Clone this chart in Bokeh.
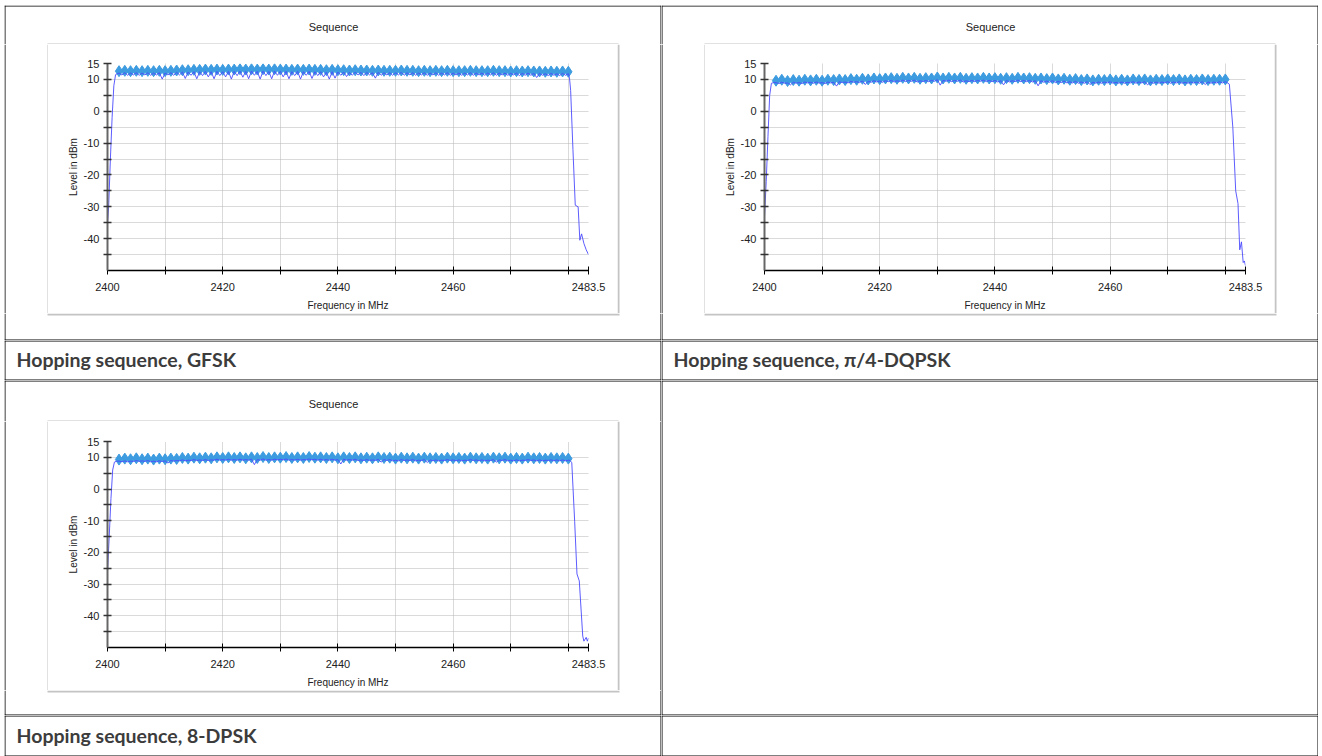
from bokeh.plotting import figure
from bokeh.models import Range1d, FixedTicker
from bokeh.layouts import column, row
from bokeh.core.properties import value
from bokeh.embed import file_html
from bokeh.resources import INLINE

# ---------------- data ----------------
channels = list(range(2402, 2481))            # 79 hopping channels (MHz)
dip_freqs = [c + 0.5 for c in range(2402, 2480)]

x_ticks = [2400, 2410, 2420, 2430, 2440, 2450, 2460, 2470, 2480, 2483.5]
x_labels = {2400: "2400", 2410: "", 2420: "2420", 2430: "", 2440: "2440",
            2450: "", 2460: "2460", 2470: "", 2480: "", 2483.5: "2483.5"}
y_ticks = [-45, -40, -35, -30, -25, -20, -15, -10, -5, 0, 5, 10, 15]
y_labels = {-45: "", -40: "-40", -35: "", -30: "-30", -25: "", -20: "-20", -15: "",
            -10: "-10", -5: "", 0: "0", 5: "", 10: "10", 15: "15"}

captions = ["Hopping sequence, GFSK", "Hopping sequence, \u03c0/4-DQPSK", "Hopping sequence, 8-DPSK"]
chart_title = "Sequence"
x_axis_label = "Frequency in MHz"
y_axis_label = "Level in dBm"

# GFSK
gfsk_markers = [12.6, 12.7, 12.6, 12.7, 12.6, 12.7, 12.6, 12.7, 12.6, 12.7,
                12.8, 12.9, 12.9, 13.0, 13.0, 13.1, 13.0, 13.1, 13.0, 13.1,
                13.1, 13.2, 13.1, 13.2, 13.1, 13.2, 13.1, 13.2, 13.1, 13.1,
                13.0, 13.1, 13.0, 13.1, 13.0, 13.0, 12.9, 13.0, 12.9, 12.9,
                12.8, 12.9, 12.8, 12.8, 12.7, 12.8, 12.7, 12.7, 12.7, 12.8,
                12.7, 12.7, 12.6, 12.7, 12.6, 12.7, 12.6, 12.7, 12.6, 12.6,
                12.6, 12.7, 12.6, 12.6, 12.6, 12.7, 12.6, 12.6, 12.5, 12.6,
                12.5, 12.6, 12.5, 12.5, 12.4, 12.5, 12.4, 12.5, 12.4]
gfsk_peaks = [12.0, 12.1, 12.0, 12.1, 12.0, 12.1, 12.0, 12.1, 12.0, 12.1,
              12.2, 12.3, 12.3, 12.4, 12.4, 12.5, 12.4, 12.5, 12.4, 12.5,
              12.5, 12.6, 12.5, 12.6, 12.5, 12.6, 12.5, 12.6, 12.5, 12.5,
              12.4, 12.5, 12.4, 12.5, 12.4, 12.4, 12.3, 12.4, 12.3, 12.3,
              12.2, 12.3, 12.2, 12.2, 12.1, 12.2, 12.1, 12.1, 12.1, 12.2,
              12.1, 12.1, 12.0, 12.1, 12.0, 12.1, 12.0, 12.1, 12.0, 12.0,
              12.0, 12.1, 12.0, 12.0, 12.0, 12.1, 12.0, 12.0, 11.9, 12.0,
              11.9, 12.0, 11.9, 11.9, 11.8, 11.9, 11.8, 11.9, 11.8]
gfsk_dips = [11.4, 11.3, 11.4, 11.3, 11.4, 11.3, 11.4, 10.1, 11.4, 11.3,
             11.4, 10.3, 11.3, 10.2, 11.2, 10.8, 10.2, 11.2, 10.8, 10.1,
             11.2, 10.7, 10.2, 11.3, 10.1, 11.2, 10.2, 11.3, 10.8, 10.2,
             11.2, 10.1, 11.3, 10.3, 11.2, 10.8, 10.1, 10.4, 11.3, 10.9,
             11.3, 11.4, 11.2, 11.4, 10.4, 11.3, 11.4, 11.3, 11.4, 11.3,
             11.4, 11.3, 11.4, 11.3, 11.4, 11.3, 11.4, 11.3, 11.4, 11.3,
             11.4, 11.3, 11.4, 11.3, 11.4, 11.3, 11.4, 11.3, 11.4, 11.2,
             11.3, 11.3, 10.6, 11.3, 11.2, 11.3, 11.2, 11.3]
gfsk_rise_f = [2400.0, 2400.2, 2400.5, 2400.8, 2401.1, 2401.4, 2401.7]
gfsk_rise_l = [-35, -30, -15, -2, 8, 11.5, 11.8]
gfsk_fall_f = [2480.2, 2480.4, 2480.8, 2481.2, 2481.7, 2482.0, 2482.3, 2482.7, 2483.1, 2483.5]
gfsk_fall_l = [10.5, 6.5, -12, -29.5, -30, -40.5, -38.5, -41.5, -43.5, -45]

# pi/4-DQPSK
dqpsk_markers = [9.6, 9.9, 9.5, 9.8, 9.6, 9.9, 9.7, 9.9, 9.6, 9.9,
                 9.8, 10.0, 9.8, 10.1, 9.9, 10.2, 10.0, 10.3, 10.1, 10.3,
                 10.4, 10.2, 10.5, 10.3, 10.5, 10.2, 10.4, 10.3, 10.6, 10.3,
                 10.5, 10.3, 10.5, 10.2, 10.4, 10.3, 10.5, 10.3, 10.4, 10.2,
                 10.4, 10.2, 10.5, 10.3, 10.4, 10.2, 10.3, 10.1, 10.3, 10.0,
                 10.2, 9.9, 10.1, 9.8, 10.0, 9.7, 9.9, 9.8, 10.0, 9.7,
                 9.9, 9.7, 10.0, 9.8, 10.0, 9.7, 9.9, 9.8, 10.0, 9.8,
                 10.0, 9.7, 9.9, 9.8, 10.0, 9.8, 9.9, 9.9, 10.0]
dqpsk_peaks = [9.0, 9.1, 8.9, 9.1, 9.0, 9.2, 9.1, 9.2, 9.0, 9.2,
               9.1, 9.3, 9.2, 9.4, 9.3, 9.5, 9.4, 9.6, 9.5, 9.6,
               9.7, 9.6, 9.8, 9.7, 9.8, 9.6, 9.7, 9.7, 9.9, 9.7,
               9.8, 9.7, 9.8, 9.6, 9.7, 9.7, 9.8, 9.7, 9.7, 9.6,
               9.7, 9.6, 9.8, 9.7, 9.7, 9.6, 9.6, 9.5, 9.6, 9.4,
               9.5, 9.3, 9.4, 9.2, 9.3, 9.1, 9.2, 9.2, 9.3, 9.1,
               9.2, 9.1, 9.3, 9.2, 9.3, 9.1, 9.2, 9.2, 9.3, 9.2,
               9.3, 9.1, 9.2, 9.2, 9.3, 9.2, 9.2, 9.3, 9.3]
dqpsk_dips = [8.7, 8.8, 8.3, 8.8, 8.7, 8.9, 8.8, 8.8, 8.7, 8.9,
              7.9, 9.0, 8.9, 9.1, 9.0, 8.4, 9.1, 9.2, 9.1, 9.3,
              9.2, 9.3, 9.3, 9.4, 9.2, 9.3, 9.3, 9.4, 8.2, 9.4,
              9.3, 9.4, 9.2, 9.3, 9.3, 9.4, 9.3, 9.3, 9.2, 8.3,
              9.2, 9.3, 9.3, 9.3, 9.2, 8.0, 9.1, 9.1, 9.0, 9.0,
              8.9, 8.9, 8.8, 8.8, 8.4, 8.8, 8.8, 8.9, 8.8, 8.8,
              8.8, 8.9, 8.8, 8.9, 8.3, 8.8, 8.8, 8.9, 8.8, 8.9,
              8.8, 8.8, 8.9, 8.8, 8.4, 8.8, 8.9, 8.9]
dqpsk_rise_f = [2400.0, 2400.3, 2400.6, 2400.9, 2401.2, 2401.6]
dqpsk_rise_l = [-33, -22, -8, 5, 8.8, 9.0]
dqpsk_fall_f = [2480.3, 2480.7, 2481.3, 2481.8, 2482.2, 2482.5, 2482.8, 2483.1, 2483.3, 2483.5]
dqpsk_fall_l = [9.0, 8.5, -5, -25, -29, -43.5, -41, -47.5, -47, -48.5]

# 8-DPSK
dpsk_markers = [9.3, 9.6, 9.4, 9.7, 9.4, 9.6, 9.3, 9.6, 9.4, 9.6,
                9.5, 9.8, 9.6, 9.9, 9.7, 9.9, 9.7, 10.0, 9.8, 10.0,
                9.8, 10.0, 9.7, 10.0, 9.8, 10.1, 9.8, 10.0, 9.9, 10.1,
                9.8, 10.0, 9.8, 10.1, 9.9, 10.0, 9.8, 10.0, 9.7, 10.0,
                9.8, 10.0, 9.7, 9.9, 9.7, 10.0, 9.8, 9.9, 9.6, 9.9,
                9.7, 9.9, 9.6, 9.9, 9.7, 9.8, 9.6, 9.9, 9.7, 9.8,
                9.6, 9.9, 9.7, 9.8, 9.6, 9.9, 9.7, 9.9, 9.6, 9.8,
                9.6, 9.9, 9.7, 9.8, 9.6, 9.8, 9.7, 9.8, 9.6]
dpsk_peaks = [8.8, 8.9, 8.8, 9.0, 8.9, 9.0, 8.8, 8.9, 8.9, 9.0,
              9.0, 9.2, 9.1, 9.3, 9.2, 9.3, 9.2, 9.4, 9.3, 9.4,
              9.3, 9.4, 9.3, 9.4, 9.3, 9.5, 9.3, 9.4, 9.4, 9.5,
              9.3, 9.4, 9.3, 9.5, 9.4, 9.4, 9.3, 9.4, 9.3, 9.4,
              9.3, 9.4, 9.2, 9.3, 9.2, 9.4, 9.3, 9.3, 9.1, 9.3,
              9.2, 9.3, 9.1, 9.3, 9.2, 9.2, 9.1, 9.3, 9.2, 9.2,
              9.1, 9.3, 9.2, 9.2, 9.1, 9.3, 9.2, 9.3, 9.1, 9.2,
              9.1, 9.3, 9.2, 9.2, 9.1, 9.2, 9.2, 9.2, 9.1]
dpsk_dips = [8.6, 8.6, 8.7, 8.7, 8.7, 8.6, 8.6, 8.7, 8.2, 8.8,
             8.9, 8.9, 9.0, 9.0, 9.0, 9.0, 9.1, 9.1, 9.1, 9.1,
             9.1, 9.1, 9.1, 7.7, 9.1, 9.1, 9.1, 9.2, 9.2, 9.1,
             9.1, 9.1, 9.2, 9.2, 9.1, 9.1, 9.1, 9.1, 7.9, 9.1,
             9.1, 9.0, 9.0, 9.0, 9.0, 8.5, 9.0, 8.9, 8.9, 9.0,
             9.0, 8.9, 9.0, 8.4, 8.9, 8.9, 9.0, 9.0, 8.9, 8.9,
             9.0, 9.0, 8.9, 8.9, 9.0, 8.5, 9.0, 8.9, 8.9, 8.9,
             9.0, 9.0, 8.9, 8.9, 9.0, 8.9, 8.9, 8.9]
dpsk_rise_f = [2400.0, 2400.3, 2400.6, 2400.9, 2401.2, 2401.6]
dpsk_rise_l = [-26, -15, -3, 6, 8.5, 8.8]
dpsk_fall_f = [2480.3, 2480.6, 2481.1, 2481.5, 2481.9, 2482.5, 2482.7, 2483.1, 2483.3, 2483.5]
dpsk_fall_l = [9.0, 8.3, -10.3, -26.8, -29, -46.4, -48, -46.8, -48, -47]

# ---------------- styling ----------------
CELL_W = 657
CELL_H = 335
SIDE_W = 44
MARKER_COLOR = "#3d9be0"
TRACE_COLOR = "#4a4aff"
BOX_COLOR = "#c4c4c4"
FONT = "Liberation Sans"


def blank(w, h):
    p = figure(width=w, height=h, x_range=Range1d(0, w), y_range=Range1d(h, 0),
               output_backend="svg", toolbar_location=None, min_border=0,
               outline_line_color=None, frame_align=False,
               background_fill_color="white", border_fill_color="white")
    p.axis.visible = False
    p.grid.visible = False
    return p


def rect_px(p, x0, x1, y0, y1, color):
    p.quad(left=[x0], right=[x1], top=[y0], bottom=[y1], fill_color=color,
           line_color=None)


def cell_border(p, w, h, top=True, bottom=True, left=True, right=True):
    if top:
        rect_px(p, 0, w, 0, 1, "black")
    if bottom:
        rect_px(p, 0, w, h - 1, h, "black")
    if left:
        rect_px(p, 0, 1, 0, h, "black")
    if right:
        rect_px(p, w - 1, w, 0, h, "black")


def caption_cell(h, text=None, baseline=18.5):
    p = blank(CELL_W, h)
    if text:
        p.text(x=[12], y=[baseline], text=[text], text_font=value("Lato"),
               text_font_style="bold", text_font_size="19.5px", text_color="#3c3c3c",
               text_baseline="alphabetic", text_align="left")
    cell_border(p, CELL_W, h)
    return p


def build_trace(peaks, dips, rise_f, rise_l, fall_f, fall_l):
    pts = list(zip(rise_f, rise_l)) + list(zip(channels, peaks)) + \
        list(zip(dip_freqs, dips)) + list(zip(fall_f, fall_l))
    pts.sort(key=lambda t: t[0])
    return [t[0] for t in pts], [t[1] for t in pts]


def chart_cell(markers, peaks, dips, rise_f, rise_l, fall_f, fall_l,
               top_h=39, bot_h=27, frame_top=19, title_y=21):
    chart_w = CELL_W - 2 * SIDE_W
    chart_h = CELL_H - top_h - bot_h

    # top strip: table border, title, top edge of the grey chart box
    top = blank(CELL_W, top_h)
    cell_border(top, CELL_W, top_h, bottom=False)
    rect_px(top, SIDE_W - 1, CELL_W - SIDE_W + 1, top_h - 1, top_h, BOX_COLOR)
    top.text(x=[329], y=[title_y], text=[chart_title], text_font=value(FONT),
             text_font_size="11px", text_color="#222222", text_align="center",
             text_baseline="middle")

    left = blank(SIDE_W, chart_h)
    rect_px(left, 0, 1, 0, chart_h, "black")
    rect_px(left, SIDE_W - 1, SIDE_W, 0, chart_h, BOX_COLOR)

    right = blank(SIDE_W, chart_h)
    rect_px(right, SIDE_W - 1, SIDE_W, 0, chart_h, "black")
    rect_px(right, 0, 2, 0, chart_h, BOX_COLOR)

    bottom = blank(CELL_W, bot_h)
    cell_border(bottom, CELL_W, bot_h, top=False)
    rect_px(bottom, SIDE_W - 1, CELL_W - SIDE_W + 2, 0, 2, BOX_COLOR)

    p = figure(width=chart_w, height=chart_h, x_range=Range1d(2400, 2483.5),
               y_range=Range1d(-50, 15), output_backend="svg", toolbar_location=None,
               min_border_left=59, min_border_right=29, min_border_top=frame_top,
               min_border_bottom=chart_h - frame_top - 208, outline_line_color=None,
               background_fill_color="white", border_fill_color="white",
               frame_align=False)

    p.xaxis.ticker = FixedTicker(ticks=x_ticks)
    p.xaxis.major_label_overrides = x_labels
    p.yaxis.ticker = FixedTicker(ticks=y_ticks)
    p.yaxis.major_label_overrides = y_labels
    p.xaxis.axis_label = x_axis_label
    p.yaxis.axis_label = y_axis_label
    for ax in (p.xaxis[0], p.yaxis[0]):
        ax.major_label_text_font = FONT
        ax.major_label_text_font_size = "11px"
        ax.major_label_text_color = "#222222"
        ax.axis_label_text_font = FONT
        ax.axis_label_text_font_size = "10px"
        ax.axis_label_text_font_style = "normal"
        ax.axis_label_text_color = "#222222"
        ax.minor_tick_line_color = None
        ax.major_tick_in = 4
        ax.major_tick_out = 4
    p.xaxis.axis_line_color = "black"
    p.xaxis.major_tick_line_color = "black"
    p.xaxis.axis_line_width = 1.5
    p.xaxis.major_label_standoff = 8
    p.xaxis.axis_label_standoff = 6
    p.yaxis.axis_line_color = "#666666"
    p.yaxis.axis_line_width = 2
    p.yaxis.major_tick_line_color = "#333333"
    p.yaxis.major_tick_line_width = 1.5
    p.yaxis.major_label_standoff = 4
    p.yaxis.axis_label_standoff = 2
    p.grid.grid_line_color = "#b4b4b4"
    p.grid.grid_line_dash = "1 1"
    p.grid.grid_line_width = 1

    p.scatter(channels, markers, marker="diamond", size=11, fill_color=MARKER_COLOR,
              line_color=MARKER_COLOR, line_width=1)
    tx, ty = build_trace(peaks, dips, rise_f, rise_l, fall_f, fall_l)
    p.line(tx, ty, line_color=TRACE_COLOR, line_width=1, line_alpha=0.9)

    return column(top, row(left, p, right), bottom)


c1 = chart_cell(gfsk_markers, gfsk_peaks, gfsk_dips, gfsk_rise_f, gfsk_rise_l, gfsk_fall_f, gfsk_fall_l)
c2 = chart_cell(dqpsk_markers, dqpsk_peaks, dqpsk_dips, dqpsk_rise_f, dqpsk_rise_l, dqpsk_fall_f, dqpsk_fall_l)
c3 = chart_cell(dpsk_markers, dpsk_peaks, dpsk_dips, dpsk_rise_f, dpsk_rise_l, dpsk_fall_f, dpsk_fall_l,
                top_h=41, bot_h=25, frame_top=20, title_y=23)
c4 = blank(CELL_W, CELL_H)
cell_border(c4, CELL_W, CELL_H)
cap1 = caption_cell(40, captions[0])
cap2 = caption_cell(40, captions[1])
cap3 = caption_cell(41, captions[2], baseline=20)
cap4 = caption_cell(41)

grid = column(row(c1, c2), row(cap1, cap2), row(c3, c4), row(cap3, cap4))
spacer_top = blank(1314, 5)
spacer_left = blank(4, 751)
root = column(spacer_top, row(spacer_left, grid))

open("out.html", "w").write(file_html(root, INLINE))
